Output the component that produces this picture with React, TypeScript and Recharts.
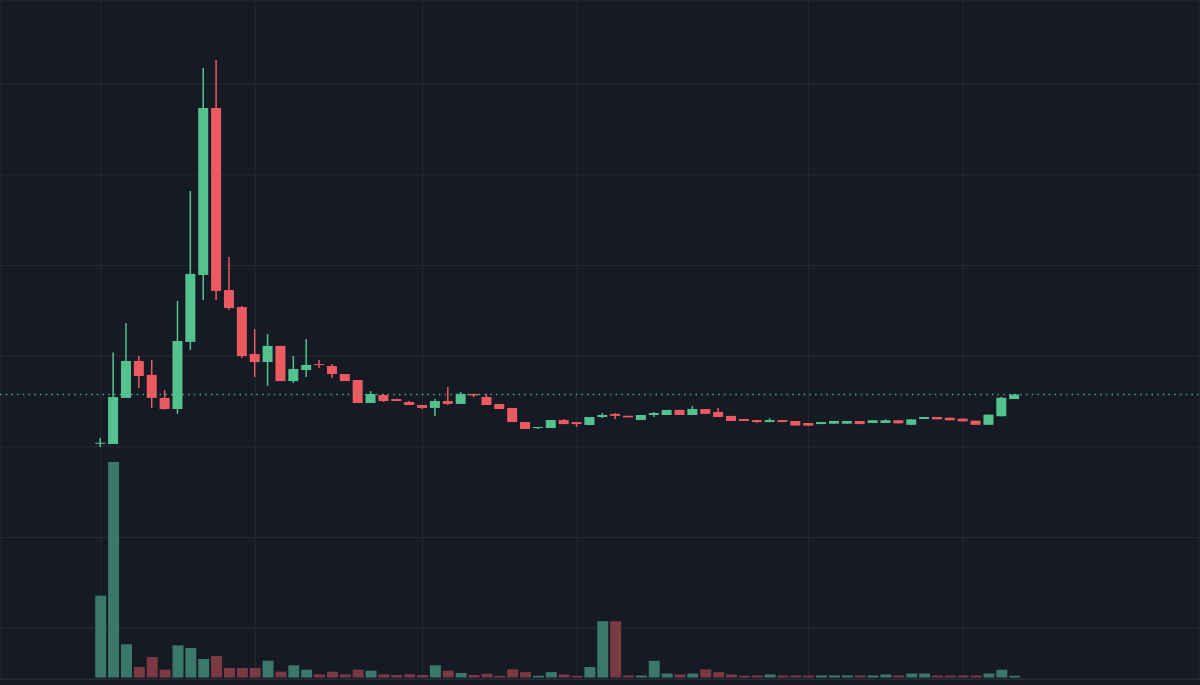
import { ComposedChart, Bar, XAxis, YAxis, CartesianGrid, ReferenceLine, Cell } from "recharts";

// OHLC + volume, one entry per session
const opens = [
  2.021, 2.015, 2.269, 2.473, 2.396, 2.269, 2.208, 2.578, 2.947, 3.868,
  2.864, 2.77, 2.511, 2.467, 2.556, 2.362, 2.423, 2.456, 2.445, 2.401,
  2.368, 2.241, 2.285, 2.263, 2.247, 2.23, 2.214, 2.252, 2.236, 2.291,
  2.274, 2.236, 2.214, 2.136, 2.103, 2.103, 2.147, 2.136, 2.12, 2.164,
  2.181, 2.171, 2.147, 2.175, 2.175, 2.203, 2.175, 2.208, 2.192, 2.17,
  2.153, 2.147, 2.136, 2.147, 2.142, 2.131, 2.125, 2.127, 2.127, 2.142,
  2.131, 2.131, 2.146, 2.121, 2.153, 2.164, 2.16, 2.155, 2.144, 2.121,
  2.168, 2.263,
];
const highs = [
  2.049, 2.519, 2.682, 2.5, 2.478, 2.313, 2.804, 3.41, 4.088, 4.133,
  3.046, 2.776, 2.649, 2.622, 2.556, 2.5, 2.594, 2.478, 2.456, 2.401,
  2.368, 2.307, 2.291, 2.263, 2.252, 2.23, 2.263, 2.329, 2.302, 2.291,
  2.291, 2.236, 2.214, 2.136, 2.109, 2.147, 2.153, 2.136, 2.164, 2.186,
  2.186, 2.171, 2.175, 2.192, 2.203, 2.203, 2.225, 2.208, 2.214, 2.17,
  2.153, 2.147, 2.158, 2.147, 2.142, 2.131, 2.136, 2.142, 2.142, 2.142,
  2.146, 2.151, 2.146, 2.151, 2.164, 2.164, 2.16, 2.155, 2.144, 2.177,
  2.276, 2.291,
];
const lows = [
  1.999, 2.015, 2.269, 2.324, 2.214, 2.205, 2.181, 2.533, 2.809, 2.809,
  2.754, 2.489, 2.385, 2.335, 2.362, 2.351, 2.385, 2.434, 2.379, 2.362,
  2.241, 2.241, 2.247, 2.252, 2.23, 2.208, 2.17, 2.23, 2.236, 2.274,
  2.23, 2.208, 2.136, 2.098, 2.098, 2.103, 2.125, 2.109, 2.12, 2.158,
  2.153, 2.162, 2.147, 2.164, 2.175, 2.175, 2.175, 2.181, 2.164, 2.142,
  2.142, 2.131, 2.136, 2.136, 2.117, 2.116, 2.125, 2.127, 2.127, 2.125,
  2.131, 2.131, 2.129, 2.121, 2.153, 2.151, 2.146, 2.14, 2.121, 2.121,
  2.168, 2.263,
];
const closes = [
  2.022, 2.274, 2.473, 2.39, 2.269, 2.208, 2.583, 2.953, 3.868, 2.859,
  2.765, 2.5, 2.467, 2.556, 2.362, 2.429, 2.451, 2.451, 2.401, 2.362,
  2.241, 2.291, 2.252, 2.252, 2.23, 2.214, 2.252, 2.236, 2.291, 2.283,
  2.23, 2.208, 2.136, 2.098, 2.109, 2.147, 2.125, 2.125, 2.164, 2.175,
  2.17, 2.162, 2.175, 2.186, 2.203, 2.175, 2.208, 2.181, 2.164, 2.142,
  2.142, 2.136, 2.147, 2.136, 2.117, 2.116, 2.136, 2.142, 2.142, 2.125,
  2.146, 2.146, 2.129, 2.151, 2.164, 2.151, 2.146, 2.14, 2.121, 2.177,
  2.27, 2.288,
];
const volumes = [
  818, 2155, 332, 105, 205, 78, 322, 295, 185, 215,
  95, 95, 95, 168, 58, 122, 78, 32, 58, 32,
  78, 68, 32, 25, 32, 25, 122, 68, 45, 25,
  37, 17, 82, 54, 17, 54, 30, 17, 105, 563,
  563, 20, 20, 166, 40, 30, 40, 82, 54, 30,
  17, 20, 30, 20, 20, 20, 20, 20, 20, 20,
  20, 30, 20, 40, 40, 20, 20, 20, 20, 40,
  78, 17,
];

// grid positions (price levels / session indices)
const priceGrid = [1, 1.5, 2, 2.5, 3, 3.5, 4];
const timeGrid = [0, 12, 25, 37, 55, 67];

const BG = "#161a25";
const GRID = "#272b36";
const UP = "#53c28f";
const DOWN = "#eb5a60";
const UP_VOL = "#3a786a";
const DOWN_VOL = "#7b3943";

const data = opens.map((open, i) => ({
  i,
  open,
  high: highs[i],
  low: lows[i],
  close: closes[i],
  volume: volumes[i],
}));

const lastClose = closes[closes.length - 1];

const Candle = (props: any) => {
  const { x, y, width, height, payload } = props;
  const { open, close, high, low } = payload;
  const color = close >= open ? UP : DOWN;
  const top = height < 0 ? y + height : y;
  const h = Math.abs(height);
  const ratio = high - low > 0 ? h / (high - low) : 0;
  const bodyTop = top + (high - Math.max(open, close)) * ratio;
  const bodyH = Math.max(1, Math.abs(open - close) * ratio);
  const cx = x + width / 2;
  return (
    <g>
      <line x1={cx} x2={cx} y1={top} y2={top + h} stroke={color} strokeWidth={1.5} />
      <rect x={x} y={bodyTop} width={width} height={bodyH} fill={color} />
    </g>
  );
};

const xDomain = [-7.82, 85.4];

export default function App() {
  return (
    <div style={{ position: "absolute", left: 0, top: 0, width: 1200, height: 685, background: BG }}>
      <ComposedChart width={1200} height={679} data={data} margin={{ top: 0, right: 0, bottom: 0, left: 0 }}>
        <XAxis xAxisId="p" dataKey="i" type="number" domain={xDomain} ticks={timeGrid} allowDataOverflow hide />
        <XAxis xAxisId="v" dataKey="i" type="number" domain={xDomain} allowDataOverflow hide />
        <YAxis yAxisId="p" type="number" domain={[0.7193, 4.4633]} ticks={priceGrid} allowDataOverflow hide />
        <YAxis yAxisId="v" type="number" domain={[-15, 6775]} allowDataOverflow hide />
        <CartesianGrid xAxisId="p" yAxisId="p" stroke={GRID} strokeWidth={1} />
        <Bar xAxisId="v" yAxisId="v" dataKey="volume" barSize={11} isAnimationActive={false}>
          {data.map((d) => (
            <Cell key={d.i} fill={d.close >= d.open ? UP_VOL : DOWN_VOL} />
          ))}
        </Bar>
        <ReferenceLine
          xAxisId="p"
          yAxisId="p"
          y={lastClose}
          stroke={UP}
          strokeWidth={1.5}
          strokeDasharray="1.5 4.2"
          strokeOpacity={0.85}
        />
        <Bar
          xAxisId="p"
          yAxisId="p"
          dataKey={(d: any) => [d.low, d.high]}
          barSize={10}
          shape={Candle}
          isAnimationActive={false}
        />
      </ComposedChart>
      <div style={{ height: 6, borderTop: `1px solid ${GRID}`, boxSizing: "border-box" }} />
    </div>
  );
}
